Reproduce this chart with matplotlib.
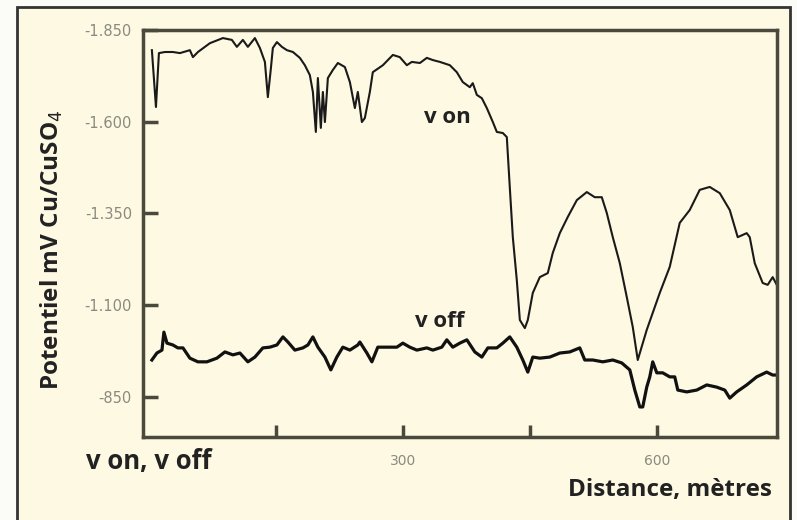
import matplotlib.pyplot as plt
from matplotlib.patches import Rectangle

# distance (m) / potential (mV Cu/CuSO4)
von_dist = [3.5, 8.3, 11.8, 18.9, 28.3, 36.6, 48.4, 52.0, 57.9, 72.0, 87.4, 98.0, 103.9,
            111.0, 116.9, 125.2, 131.1, 137.0, 140.5, 144.1, 146.4, 151.2, 157.1, 163.0,
            170.1, 178.3, 184.2, 190.1, 193.7, 197.2, 199.6, 203.1, 205.5, 207.9, 211.4,
            217.3, 223.2, 231.5, 237.4, 243.3, 246.8, 251.6, 255.1, 261.0, 264.5, 276.4,
            288.2, 296.4, 304.7, 310.6, 320.1, 328.3, 335.4, 343.7, 355.5, 363.7, 370.8,
            379.1, 382.6, 387.4, 393.3, 399.2, 406.3, 411.0, 418.1, 422.8, 426.3, 429.9,
            434.6, 438.2, 444.1, 447.6, 453.5, 461.8, 471.2, 477.1, 485.4, 494.8, 505.5,
            517.3, 526.7, 535.0, 540.9, 548.0, 556.3, 564.5, 571.6, 577.5, 588.1, 603.5,
            615.3, 627.1, 638.9, 650.7, 662.5, 674.4, 686.2, 695.6, 706.2, 709.8, 715.7,
            725.1, 731.0, 736.9, 741.7]
von_mv = [-1795, -1640, -1787, -1790, -1790, -1787, -1795, -1776, -1790, -1814, -1828, -1823,
          -1804, -1823, -1804, -1828, -1801, -1763, -1667, -1746, -1801, -1817, -1804, -1795,
          -1790, -1774, -1754, -1727, -1681, -1572, -1719, -1583, -1681, -1599, -1719, -1741,
          -1760, -1749, -1708, -1637, -1681, -1599, -1610, -1681, -1735, -1754, -1782, -1776,
          -1754, -1763, -1760, -1774, -1768, -1763, -1754, -1735, -1708, -1694, -1705, -1673,
          -1664, -1637, -1599, -1572, -1569, -1558, -1422, -1285, -1168, -1059, -1037, -1059,
          -1133, -1176, -1187, -1242, -1296, -1340, -1386, -1408, -1394, -1394, -1351, -1285,
          -1214, -1122, -1040, -950, -1032, -1133, -1204, -1324, -1359, -1414, -1422, -1405,
          -1359, -1285, -1296, -1285, -1214, -1160, -1155, -1176, -1155]

voff_dist = [3.5, 9.4, 15.4, 17.7, 21.3, 28.3, 34.2, 40.2, 48.4, 57.9, 68.5, 80.3, 89.8,
             99.2, 107.5, 116.9, 125.2, 134.6, 142.9, 151.2, 158.3, 164.2, 172.4, 181.9,
             187.8, 193.7, 199.6, 207.9, 214.9, 222.0, 229.1, 237.4, 246.8, 249.2, 257.5,
             263.4, 270.4, 281.1, 292.9, 300.0, 308.2, 316.5, 328.3, 335.4, 346.0, 351.9,
             359.0, 367.3, 375.6, 385.0, 393.3, 400.4, 411.0, 418.1, 426.3, 434.6, 441.7,
             447.6, 453.5, 461.8, 473.6, 485.4, 497.2, 509.0, 514.9, 524.4, 536.2, 548.0,
             558.6, 568.1, 574.0, 579.9, 583.4, 588.1, 591.7, 595.2, 600.0, 607.0, 615.3,
             621.2, 624.8, 635.4, 647.2, 659.0, 670.8, 680.3, 686.2, 694.4, 706.2, 718.0,
             729.8, 736.9, 741.7]
voff_mv = [-950, -969, -977, -1026, -996, -991, -983, -983, -955, -945, -945, -955, -972,
           -964, -969, -945, -958, -983, -985, -991, -1013, -999, -977, -983, -991, -1013,
           -985, -958, -923, -958, -985, -977, -991, -999, -969, -945, -985, -985, -985,
           -996, -985, -977, -983, -977, -985, -1005, -985, -996, -1005, -972, -958, -983,
           -983, -996, -1013, -985, -950, -917, -958, -955, -958, -969, -972, -983, -950,
           -950, -945, -950, -942, -923, -868, -822, -822, -876, -904, -945, -915, -915,
           -904, -904, -868, -863, -868, -882, -876, -868, -846, -863, -882, -904, -917,
           -909, -909]

y_ticks = [-1850, -1600, -1350, -1100, -850]
y_labels = ['-1.850', '-1.600', '-1.350', '-1.100', '-850']
x_ticks = [150, 300, 450, 600]
x_labels = ['', '300', '', '600']

cream = '#fef9e2'
axcol = '#4a4a3c'
plt.rcParams['font.family'] = ['Open Sans', 'DejaVu Sans']

fig = plt.figure(figsize=(7.97, 5.2), dpi=100)
fig.patch.set_facecolor('#fbfbf8')

# outer frame of the figure panel, kept behind the axes
frame = Rectangle((17 / 797, -0.05), (790 - 17) / 797, (513 / 520) + 0.05,
                  transform=fig.transFigure, facecolor=cream, edgecolor='#333333',
                  linewidth=2, zorder=-5)
fig.patches.append(frame)

ax = fig.add_axes([143 / 797, 83 / 520, 634 / 797, 407 / 520], zorder=2)
ax.set_facecolor(cream)

ax.plot(von_dist, von_mv, color='#1a1a1a', linewidth=1.5)
ax.plot(voff_dist, voff_mv, color='#111111', linewidth=2.3)

ax.set_xlim(-7, 742)
ax.set_ylim(-740, -1850)

ax.set_yticks(y_ticks)
ax.set_yticklabels(y_labels, family='DejaVu Sans')
ax.set_xticks(x_ticks)
ax.set_xticklabels(x_labels, family='DejaVu Sans')
ax.tick_params(axis='y', direction='in', length=11, width=2.5, color=axcol,
               labelsize=10.5, labelcolor='#8a8a80', pad=8)
ax.tick_params(axis='x', direction='in', length=9, width=2.5, color=axcol,
               labelsize=10, labelcolor='#8a8a80', pad=12)

for s in ax.spines.values():
    s.set_color(axcol)
    s.set_linewidth(2.5)

ax.text(352, -1610, 'v on', fontsize=16, fontweight='bold', color='#222222',
        ha='center', va='center')
ax.text(344, -1055, 'v off', fontsize=16, fontweight='bold', color='#222222',
        ha='center', va='center')

fig.text(52 / 797, (520 - 250) / 520, 'Potentiel mV Cu/CuSO$_4$',
         rotation=90, fontsize=17.5, fontweight='bold', color='#222222',
         ha='center', va='center')
fig.text(86 / 797, (520 - 462) / 520, 'v on, v off', fontsize=18.5, fontweight='bold',
         color='#222222', ha='left', va='center')
fig.text(772 / 797, (520 - 490) / 520, 'Distance, mètres', fontsize=17.5,
         fontweight='bold', color='#222222', ha='right', va='center')

fig.savefig('out.png', dpi=100, facecolor=fig.get_facecolor())
